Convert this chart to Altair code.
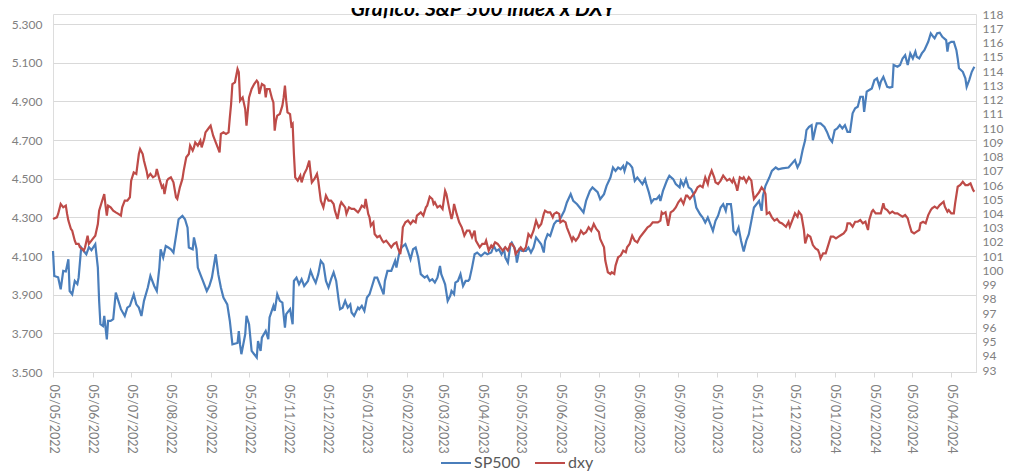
import altair as alt
import pandas as pd

TITLE = "Gráfico: S&P 500 index x DXY"
SERIES = ["SP500", "dxy"]
COLORS = ["#4a7ebb", "#be4b48"]

sp_dates = [
    "2022-05-05", "2022-05-06", "2022-05-09", "2022-05-11", "2022-05-13", "2022-05-15", "2022-05-17", "2022-05-18",
    "2022-05-20", "2022-05-22", "2022-05-24", "2022-05-25", "2022-05-27", "2022-05-29", "2022-05-31", "2022-06-02",
    "2022-06-04", "2022-06-07", "2022-06-09", "2022-06-10", "2022-06-11", "2022-06-13", "2022-06-14", "2022-06-16",
    "2022-06-17", "2022-06-19", "2022-06-21", "2022-06-23", "2022-06-25", "2022-06-27", "2022-06-30", "2022-07-02",
    "2022-07-04", "2022-07-07", "2022-07-09", "2022-07-11", "2022-07-13", "2022-07-15", "2022-07-18", "2022-07-20",
    "2022-07-23", "2022-07-25", "2022-07-27", "2022-07-28", "2022-07-30", "2022-08-01", "2022-08-03", "2022-08-05",
    "2022-08-07", "2022-08-09", "2022-08-11", "2022-08-14", "2022-08-16", "2022-08-18", "2022-08-19", "2022-08-22",
    "2022-08-23", "2022-08-25", "2022-08-26", "2022-08-28", "2022-08-30", "2022-09-02", "2022-09-04", "2022-09-06",
    "2022-09-09", "2022-09-11", "2022-09-13", "2022-09-15", "2022-09-18", "2022-09-20", "2022-09-22", "2022-09-26",
    "2022-09-27", "2022-09-28", "2022-09-29", "2022-10-02", "2022-10-03", "2022-10-05", "2022-10-07", "2022-10-09",
    "2022-10-11", "2022-10-12", "2022-10-14", "2022-10-15", "2022-10-18", "2022-10-20", "2022-10-21", "2022-10-24",
    "2022-10-25", "2022-10-27", "2022-10-29", "2022-10-31", "2022-11-02", "2022-11-03", "2022-11-06", "2022-11-08",
    "2022-11-09", "2022-11-11", "2022-11-13", "2022-11-15", "2022-11-17", "2022-11-20", "2022-11-22", "2022-11-24",
    "2022-11-26", "2022-11-28", "2022-11-30", "2022-12-02", "2022-12-04", "2022-12-06", "2022-12-08", "2022-12-10",
    "2022-12-12", "2022-12-14", "2022-12-15", "2022-12-17", "2022-12-19", "2022-12-21", "2022-12-23", "2022-12-24",
    "2022-12-26", "2022-12-29", "2022-12-30", "2023-01-01", "2023-01-03", "2023-01-05", "2023-01-07", "2023-01-09",
    "2023-01-11", "2023-01-13", "2023-01-15", "2023-01-18", "2023-01-19", "2023-01-21", "2023-01-24", "2023-01-27",
    "2023-01-28", "2023-01-30", "2023-02-01", "2023-02-04", "2023-02-06", "2023-02-08", "2023-02-10", "2023-02-12",
    "2023-02-14", "2023-02-16", "2023-02-19", "2023-02-21", "2023-02-23", "2023-02-25", "2023-02-27", "2023-03-01",
    "2023-03-03", "2023-03-04", "2023-03-06", "2023-03-07", "2023-03-09", "2023-03-11", "2023-03-12", "2023-03-14",
    "2023-03-15", "2023-03-17", "2023-03-19", "2023-03-21", "2023-03-23", "2023-03-25", "2023-03-26", "2023-03-28",
    "2023-03-30", "2023-04-01", "2023-04-04", "2023-04-07", "2023-04-09", "2023-04-12", "2023-04-14", "2023-04-16",
    "2023-04-18", "2023-04-20", "2023-04-22", "2023-04-23", "2023-04-25", "2023-04-27", "2023-04-28", "2023-04-30",
    "2023-05-01", "2023-05-02", "2023-05-04", "2023-05-06", "2023-05-09", "2023-05-11", "2023-05-13", "2023-05-15",
    "2023-05-17", "2023-05-19", "2023-05-21", "2023-05-23", "2023-05-24", "2023-05-26", "2023-05-28", "2023-05-31",
    "2023-06-02", "2023-06-04", "2023-06-06", "2023-06-08", "2023-06-10", "2023-06-13", "2023-06-15", "2023-06-18",
    "2023-06-20", "2023-06-23", "2023-06-25", "2023-06-28", "2023-06-30", "2023-07-04", "2023-07-06", "2023-07-09",
    "2023-07-11", "2023-07-14", "2023-07-16", "2023-07-18", "2023-07-20", "2023-07-22", "2023-07-24", "2023-07-25",
    "2023-07-27", "2023-07-29", "2023-07-31", "2023-08-02", "2023-08-04", "2023-08-06", "2023-08-08", "2023-08-10",
    "2023-08-11", "2023-08-13", "2023-08-15", "2023-08-17", "2023-08-19", "2023-08-21", "2023-08-22", "2023-08-24",
    "2023-08-27", "2023-08-29", "2023-09-01", "2023-09-03", "2023-09-06", "2023-09-07", "2023-09-09", "2023-09-11",
    "2023-09-13", "2023-09-15", "2023-09-17", "2023-09-19", "2023-09-22", "2023-09-24", "2023-09-26", "2023-09-28",
    "2023-09-30", "2023-10-02", "2023-10-04", "2023-10-06", "2023-10-08", "2023-10-10", "2023-10-12", "2023-10-13",
    "2023-10-16", "2023-10-17", "2023-10-18", "2023-10-20", "2023-10-22", "2023-10-24", "2023-10-26", "2023-10-28",
    "2023-10-30", "2023-11-01", "2023-11-03", "2023-11-05", "2023-11-07", "2023-11-09", "2023-11-10", "2023-11-12",
    "2023-11-15", "2023-11-17", "2023-11-20", "2023-11-22", "2023-11-25", "2023-11-30", "2023-12-05", "2023-12-07",
    "2023-12-09", "2023-12-11", "2023-12-13", "2023-12-14", "2023-12-16", "2023-12-18", "2023-12-19", "2023-12-21",
    "2023-12-22", "2023-12-25", "2023-12-28", "2023-12-30", "2024-01-01", "2024-01-03", "2024-01-05", "2024-01-07",
    "2024-01-09", "2024-01-11", "2024-01-13", "2024-01-15", "2024-01-17", "2024-01-19", "2024-01-21", "2024-01-23",
    "2024-01-25", "2024-01-27", "2024-01-28", "2024-01-30", "2024-02-01", "2024-02-03", "2024-02-05", "2024-02-07",
    "2024-02-09", "2024-02-10", "2024-02-12", "2024-02-15", "2024-02-17", "2024-02-19", "2024-02-20", "2024-02-23",
    "2024-02-25", "2024-02-27", "2024-02-29", "2024-03-02", "2024-03-04", "2024-03-06", "2024-03-08", "2024-03-09",
    "2024-03-11", "2024-03-13", "2024-03-15", "2024-03-18", "2024-03-20", "2024-03-22", "2024-03-23", "2024-03-25",
    "2024-03-27", "2024-03-29", "2024-04-01", "2024-04-02", "2024-04-03", "2024-04-05", "2024-04-07", "2024-04-09",
    "2024-04-10", "2024-04-11", "2024-04-14", "2024-04-16", "2024-04-17", "2024-04-19", "2024-04-21", "2024-04-23",
]
sp_values = [
    4126, 3997, 3990, 3928, 4023, 4020, 4083, 3919, 3902, 3971, 3955, 3988, 4144, 4126, 4109, 4146,
    4130, 4161, 4040, 3867, 3747, 3738, 3790, 3669, 3764, 3764, 3773, 3911, 3868, 3825, 3790, 3833,
    3842, 3902, 3850, 3833, 3790, 3868, 3937, 3997, 3945, 3919, 4040, 4135, 4092, 4152, 4144, 4135,
    4118, 4204, 4290, 4308, 4290, 4247, 4144, 4135, 4196, 4135, 4040, 4005, 3971, 3919, 3945, 3988,
    4109, 4005, 3937, 3885, 3850, 3764, 3643, 3650, 3712, 3640, 3592, 3695, 3790, 3747, 3609, 3592,
    3575, 3660, 3609, 3678, 3712, 3670, 3782, 3842, 3816, 3902, 3868, 3859, 3730, 3799, 3825, 3747,
    3971, 3988, 3954, 3980, 3945, 3971, 4023, 3988, 3962, 4006, 4075, 4058, 3971, 3937, 3980, 4015,
    3971, 3868, 3825, 3833, 3868, 3833, 3850, 3808, 3790, 3833, 3825, 3842, 3816, 3885, 3902, 3945,
    3988, 3988, 3954, 3902, 3971, 4023, 4023, 4075, 4040, 4109, 4144, 4161, 4126, 4083, 4135, 4144,
    4092, 4006, 3988, 3997, 3971, 3980, 3963, 3988, 4049, 4006, 3971, 3954, 3868, 3894, 3919, 3902,
    3962, 3971, 4006, 3945, 3971, 3971, 3980, 4040, 4109, 4118, 4100, 4118, 4109, 4118, 4152, 4126,
    4135, 4109, 4135, 4092, 4066, 4161, 4170, 4144, 4126, 4066, 4135, 4126, 4126, 4144, 4118, 4144,
    4196, 4178, 4161, 4118, 4178, 4213, 4204, 4265, 4282, 4282, 4308, 4334, 4377, 4420, 4385, 4368,
    4351, 4325, 4385, 4437, 4455, 4430, 4394, 4420, 4463, 4506, 4558, 4540, 4558, 4549, 4566, 4540,
    4584, 4575, 4558, 4489, 4506, 4489, 4472, 4498, 4472, 4429, 4377, 4394, 4394, 4411, 4385, 4437,
    4489, 4515, 4498, 4472, 4455, 4489, 4463, 4498, 4455, 4446, 4420, 4351, 4316, 4299, 4273, 4299,
    4265, 4230, 4282, 4308, 4351, 4368, 4334, 4368, 4368, 4316, 4230, 4213, 4247, 4178, 4123, 4178,
    4213, 4282, 4351, 4368, 4385, 4334, 4411, 4463, 4506, 4540, 4558, 4549, 4553, 4558, 4596, 4558,
    4584, 4648, 4700, 4751, 4768, 4777, 4699, 4760, 4786, 4786, 4768, 4742, 4708, 4690, 4751, 4760,
    4777, 4760, 4777, 4742, 4742, 4838, 4864, 4872, 4924, 4924, 4846, 4950, 4959, 4967, 5010, 5019,
    4976, 5002, 5027, 4975, 4971, 4975, 5088, 5079, 5088, 5122, 5139, 5088, 5148, 5122, 5157, 5131,
    5122, 5148, 5165, 5208, 5252, 5234, 5226, 5252, 5255, 5234, 5217, 5157, 5200, 5208, 5208, 5165,
    5122, 5071, 5053, 5019, 4975, 5010, 5053, 5079,
]

dxy_dates = [
    "2022-05-05", "2022-05-08", "2022-05-09", "2022-05-11", "2022-05-13", "2022-05-15", "2022-05-16", "2022-05-17",
    "2022-05-19", "2022-05-20", "2022-05-22", "2022-05-23", "2022-05-25", "2022-05-26", "2022-05-28", "2022-05-29",
    "2022-05-30", "2022-06-01", "2022-06-02", "2022-06-04", "2022-06-05", "2022-06-07", "2022-06-09", "2022-06-10",
    "2022-06-12", "2022-06-14", "2022-06-15", "2022-06-16", "2022-06-17", "2022-06-19", "2022-06-21", "2022-06-23",
    "2022-06-25", "2022-06-27", "2022-06-28", "2022-06-30", "2022-07-02", "2022-07-04", "2022-07-05", "2022-07-07",
    "2022-07-09", "2022-07-11", "2022-07-12", "2022-07-14", "2022-07-15", "2022-07-17", "2022-07-18", "2022-07-20",
    "2022-07-22", "2022-07-24", "2022-07-25", "2022-07-27", "2022-07-29", "2022-07-30", "2022-07-31", "2022-08-02",
    "2022-08-03", "2022-08-05", "2022-08-07", "2022-08-09", "2022-08-10", "2022-08-12", "2022-08-14", "2022-08-15",
    "2022-08-17", "2022-08-19", "2022-08-20", "2022-08-22", "2022-08-23", "2022-08-24", "2022-08-26", "2022-08-28",
    "2022-08-29", "2022-08-31", "2022-09-01", "2022-09-03", "2022-09-04", "2022-09-05", "2022-09-07", "2022-09-09",
    "2022-09-10", "2022-09-12", "2022-09-13", "2022-09-15", "2022-09-17", "2022-09-19", "2022-09-20", "2022-09-21",
    "2022-09-22", "2022-09-24", "2022-09-26", "2022-09-27", "2022-09-28", "2022-09-29", "2022-09-30", "2022-10-02",
    "2022-10-03", "2022-10-05", "2022-10-07", "2022-10-09", "2022-10-11", "2022-10-12", "2022-10-13", "2022-10-15",
    "2022-10-17", "2022-10-18", "2022-10-19", "2022-10-21", "2022-10-23", "2022-10-24", "2022-10-25", "2022-10-26",
    "2022-10-27", "2022-10-29", "2022-10-31", "2022-11-01", "2022-11-02", "2022-11-03", "2022-11-04", "2022-11-06",
    "2022-11-07", "2022-11-08", "2022-11-09", "2022-11-10", "2022-11-12", "2022-11-14", "2022-11-15", "2022-11-17",
    "2022-11-19", "2022-11-21", "2022-11-22", "2022-11-23", "2022-11-25", "2022-11-27", "2022-11-28", "2022-11-30",
    "2022-12-02", "2022-12-04", "2022-12-06", "2022-12-08", "2022-12-10", "2022-12-11", "2022-12-13", "2022-12-15",
    "2022-12-16", "2022-12-19", "2022-12-20", "2022-12-22", "2022-12-24", "2022-12-26", "2022-12-29", "2022-12-30",
    "2023-01-01", "2023-01-03", "2023-01-04", "2023-01-06", "2023-01-07", "2023-01-08", "2023-01-10", "2023-01-11",
    "2023-01-13", "2023-01-15", "2023-01-17", "2023-01-18", "2023-01-20", "2023-01-22", "2023-01-24", "2023-01-26",
    "2023-01-28", "2023-01-29", "2023-01-31", "2023-02-01", "2023-02-02", "2023-02-04", "2023-02-06", "2023-02-08",
    "2023-02-10", "2023-02-12", "2023-02-13", "2023-02-16", "2023-02-18", "2023-02-20", "2023-02-21", "2023-02-23",
    "2023-02-25", "2023-02-26", "2023-02-27", "2023-03-01", "2023-03-03", "2023-03-05", "2023-03-07", "2023-03-08",
    "2023-03-10", "2023-03-12", "2023-03-13", "2023-03-14", "2023-03-16", "2023-03-18", "2023-03-20", "2023-03-22",
    "2023-03-24", "2023-03-26", "2023-03-28", "2023-03-30", "2023-03-31", "2023-04-03", "2023-04-05", "2023-04-07",
    "2023-04-08", "2023-04-10", "2023-04-12", "2023-04-13", "2023-04-15", "2023-04-17", "2023-04-19", "2023-04-21",
    "2023-04-23", "2023-04-25", "2023-04-27", "2023-04-28", "2023-04-30", "2023-05-01", "2023-05-03", "2023-05-05",
    "2023-05-07", "2023-05-09", "2023-05-11", "2023-05-13", "2023-05-15", "2023-05-17", "2023-05-19", "2023-05-21",
    "2023-05-23", "2023-05-24", "2023-05-26", "2023-05-28", "2023-05-30", "2023-05-31", "2023-06-02", "2023-06-04",
    "2023-06-05", "2023-06-07", "2023-06-09", "2023-06-10", "2023-06-12", "2023-06-14", "2023-06-15", "2023-06-17",
    "2023-06-19", "2023-06-21", "2023-06-23", "2023-06-25", "2023-06-27", "2023-06-29", "2023-07-01", "2023-07-03",
    "2023-07-05", "2023-07-06", "2023-07-09", "2023-07-10", "2023-07-12", "2023-07-14", "2023-07-15", "2023-07-17",
    "2023-07-18", "2023-07-20", "2023-07-22", "2023-07-24", "2023-07-26", "2023-07-27", "2023-07-29", "2023-07-31",
    "2023-08-02", "2023-08-04", "2023-08-06", "2023-08-08", "2023-08-10", "2023-08-12", "2023-08-14", "2023-08-16",
    "2023-08-18", "2023-08-20", "2023-08-22", "2023-08-23", "2023-08-24", "2023-08-26", "2023-08-28", "2023-08-30",
    "2023-09-01", "2023-09-03", "2023-09-05", "2023-09-07", "2023-09-09", "2023-09-11", "2023-09-12", "2023-09-14",
    "2023-09-16", "2023-09-18", "2023-09-20", "2023-09-22", "2023-09-24", "2023-09-26", "2023-09-28", "2023-09-29",
    "2023-10-01", "2023-10-03", "2023-10-04", "2023-10-06", "2023-10-08", "2023-10-10", "2023-10-12", "2023-10-13",
    "2023-10-15", "2023-10-17", "2023-10-18", "2023-10-20", "2023-10-21", "2023-10-23", "2023-10-25", "2023-10-26",
    "2023-10-28", "2023-10-30", "2023-11-01", "2023-11-02", "2023-11-03", "2023-11-05", "2023-11-07", "2023-11-09",
    "2023-11-11", "2023-11-12", "2023-11-13", "2023-11-15", "2023-11-17", "2023-11-19", "2023-11-21", "2023-11-23",
    "2023-11-25", "2023-11-28", "2023-11-30", "2023-12-01", "2023-12-03", "2023-12-05", "2023-12-07", "2023-12-08",
    "2023-12-10", "2023-12-12", "2023-12-13", "2023-12-15", "2023-12-17", "2023-12-19", "2023-12-21", "2023-12-23",
    "2023-12-24", "2023-12-25", "2023-12-27", "2023-12-29", "2023-12-31", "2024-01-02", "2024-01-04", "2024-01-06",
    "2024-01-08", "2024-01-10", "2024-01-12", "2024-01-14", "2024-01-15", "2024-01-17", "2024-01-19", "2024-01-21",
    "2024-01-23", "2024-01-25", "2024-01-27", "2024-01-29", "2024-01-31", "2024-02-01", "2024-02-03", "2024-02-04",
    "2024-02-06", "2024-02-08", "2024-02-10", "2024-02-12", "2024-02-13", "2024-02-15", "2024-02-17", "2024-02-19",
    "2024-02-21", "2024-02-23", "2024-02-25", "2024-02-27", "2024-02-29", "2024-03-02", "2024-03-03", "2024-03-05",
    "2024-03-07", "2024-03-09", "2024-03-11", "2024-03-12", "2024-03-14", "2024-03-16", "2024-03-18", "2024-03-20",
    "2024-03-21", "2024-03-23", "2024-03-25", "2024-03-27", "2024-03-30", "2024-03-31", "2024-04-02", "2024-04-03",
    "2024-04-05", "2024-04-07", "2024-04-08", "2024-04-10", "2024-04-12", "2024-04-14", "2024-04-16", "2024-04-18",
    "2024-04-20", "2024-04-22", "2024-04-23",
]
dxy_values = [
    103.61, 103.73, 103.97, 104.67, 104.43, 104.55, 103.97, 103.50, 102.91, 102.79, 102.09, 101.86, 101.86, 101.62, 101.50, 101.39,
    101.62, 102.44, 101.86, 102.09, 102.21, 102.44, 103.26, 104.20, 104.79, 105.37, 104.55, 103.85, 104.55, 104.43, 104.20, 104.08,
    103.97, 103.85, 104.43, 104.90, 104.90, 105.14, 106.31, 106.89, 106.78, 108.18, 108.53, 108.18, 107.71, 107.01, 106.54, 106.78,
    106.54, 106.66, 107.13, 106.43, 105.84, 105.96, 105.37, 106.31, 106.43, 106.54, 106.19, 105.14, 105.02, 105.84, 106.43, 107.01,
    107.95, 108.18, 108.77, 108.42, 108.65, 109.00, 108.77, 109.12, 108.65, 109.24, 109.70, 109.94, 110.06, 110.17, 109.47, 109.00,
    108.77, 108.30, 109.59, 109.70, 109.59, 109.70, 110.76, 111.70, 113.10, 113.22, 114.16, 113.92, 111.93, 112.05, 112.16, 111.34,
    110.17, 112.16, 112.75, 113.10, 113.34, 113.22, 112.40, 113.10, 112.98, 112.16, 112.75, 112.75, 112.05, 111.81, 109.82, 110.52,
    110.88, 110.99, 111.58, 112.16, 112.98, 111.93, 111.11, 110.99, 110.17, 110.29, 108.18, 106.54, 106.31, 106.66, 106.19, 106.78,
    107.13, 107.71, 106.89, 106.19, 106.43, 106.78, 106.31, 104.90, 104.43, 105.26, 104.90, 104.90, 104.67, 104.20, 103.61, 104.55,
    104.79, 104.43, 103.97, 104.43, 104.32, 104.32, 104.08, 104.20, 104.55, 104.43, 105.02, 103.97, 103.73, 103.14, 103.38, 102.56,
    102.33, 102.44, 102.09, 101.97, 102.09, 101.86, 101.62, 101.86, 101.97, 101.62, 101.15, 101.86, 103.03, 103.38, 103.50, 103.26,
    103.50, 103.38, 103.85, 104.08, 103.85, 104.43, 104.55, 105.18, 105.02, 104.67, 104.79, 104.43, 104.55, 104.32, 105.60, 105.37,
    104.43, 103.61, 103.97, 104.67, 103.97, 103.38, 103.03, 102.44, 102.79, 102.79, 102.33, 102.79, 102.09, 101.62, 101.86, 101.86,
    102.09, 101.39, 101.74, 101.62, 101.97, 101.86, 101.62, 101.39, 101.62, 101.39, 101.86, 101.86, 101.62, 101.15, 101.39, 101.62,
    101.39, 101.62, 102.56, 102.33, 102.79, 103.50, 103.03, 103.26, 103.97, 104.20, 104.08, 104.08, 103.73, 103.97, 104.08, 103.97,
    103.38, 103.50, 103.38, 103.03, 102.56, 102.09, 102.33, 102.09, 102.33, 102.79, 102.56, 102.68, 103.03, 102.79, 103.26, 102.91,
    102.70, 102.21, 101.62, 100.69, 99.87, 99.75, 99.87, 99.75, 100.34, 100.92, 101.04, 101.39, 101.27, 101.62, 101.86, 102.44,
    102.09, 101.97, 102.33, 102.56, 102.79, 103.03, 103.14, 103.38, 103.38, 103.38, 103.50, 104.08, 103.97, 104.08, 103.14, 104.08,
    104.20, 104.43, 104.79, 105.02, 104.67, 105.26, 105.26, 105.02, 105.26, 105.49, 105.84, 105.96, 105.84, 106.54, 106.07, 106.54,
    107.01, 106.54, 106.19, 106.07, 106.31, 106.66, 106.43, 106.31, 106.43, 106.19, 106.43, 105.96, 105.60, 106.54, 106.43, 106.54,
    106.19, 106.54, 106.31, 105.60, 105.02, 105.26, 105.49, 105.84, 105.60, 105.37, 103.97, 104.08, 103.73, 103.50, 103.61, 103.38,
    103.30, 103.07, 103.42, 103.07, 103.54, 104.01, 103.77, 104.13, 103.89, 102.84, 101.90, 102.49, 102.37, 101.78, 101.55, 101.43,
    101.20, 100.85, 101.20, 101.20, 101.78, 102.37, 102.37, 102.25, 102.37, 102.49, 102.60, 102.84, 103.31, 103.31, 103.07, 103.42,
    103.42, 103.54, 103.31, 103.42, 102.84, 103.54, 104.13, 104.24, 104.01, 104.01, 104.01, 104.71, 104.36, 104.24, 104.01, 104.13,
    104.01, 104.01, 103.89, 103.77, 103.89, 103.66, 103.31, 102.72, 102.60, 102.72, 102.84, 103.31, 103.42, 103.31, 103.89, 104.24,
    104.36, 104.48, 104.36, 104.59, 104.83, 104.48, 104.13, 104.24, 104.01, 104.01, 104.71, 105.88, 106.00, 106.23, 106.00, 106.00,
    106.12, 105.65, 105.53,
]

left_ticks = [3500, 3700, 3900, 4100, 4300, 4500, 4700, 4900, 5100, 5300]
right_ticks = list(range(93, 119))
tick_months = [(2022, m) for m in range(5, 13)] + [(2023, m) for m in range(1, 13)] + [(2024, m) for m in range(1, 5)]

sp_df = pd.DataFrame({"date": sp_dates, "value": sp_values, "series": SERIES[0]})
dxy_df = pd.DataFrame({"date": dxy_dates, "value": dxy_values, "series": SERIES[1]})

FONT = "Lato"
GRAY = "#808080"
LINE = "#d9d9d9"

x_scale = alt.Scale(
    type="utc",
    domain=[alt.DateTime(year=2022, month=5, date=5, utc=True),
            alt.DateTime(year=2024, month=4, date=24, hours=7, utc=True)],
)
x_axis = alt.Axis(
    values=[alt.DateTime(year=y, month=m, date=5, utc=True) for y, m in tick_months],
    format="%d/%m/%Y", formatType="time", labelAngle=90, labelAlign="left", labelBaseline="middle",
    labelColor=GRAY, labelFont=FONT, labelFontSize=12.5,
    domainColor=LINE, tickColor=LINE, tickSize=5, labelPadding=7, grid=False,
    labelOverlap=False, labelBound=False, labelFlush=False, title=None,
)

color = alt.Color(
    "series:N",
    scale=alt.Scale(domain=SERIES, range=COLORS),
    legend=alt.Legend(
        orient="none", legendX=387, legendY=433, direction="horizontal", title=None,
        symbolType="stroke", symbolSize=900, symbolStrokeWidth=2,
        labelFont=FONT, labelFontSize=16, labelColor="#595959",
        columnPadding=10, labelOffset=2, padding=0,
    ),
)

sp_line = alt.Chart(sp_df).mark_line(strokeWidth=2.2).encode(
    x=alt.X("date:T", scale=x_scale, axis=x_axis),
    y=alt.Y("value:Q", scale=alt.Scale(domain=[3500, 5352], nice=False, zero=False),
            axis=alt.Axis(values=left_ticks, orient="left",
                          labelExpr="replace(format(datum.value, ',.0f'), ',', '.')",
                          grid=True, gridColor=LINE, gridWidth=1, domain=False, ticks=False,
                          labelColor=GRAY, labelFont=FONT, labelFontSize=12, labelPadding=11,
                          title=None)),
    color=color,
)

dxy_line = alt.Chart(dxy_df).mark_line(strokeWidth=2.2).encode(
    x=alt.X("date:T", scale=x_scale, axis=x_axis),
    y=alt.Y("value:Q", scale=alt.Scale(domain=[92.86, 118.02], nice=False, zero=False),
            axis=alt.Axis(values=right_ticks, orient="right", grid=False, domain=False, ticks=False,
                          labelColor=GRAY, labelFont=FONT, labelFontSize=12, labelPadding=6,
                          labelOverlap=False, labelBound=False, title=None)),
    color=color,
)

title_mark = alt.Chart(pd.DataFrame({"t": [TITLE]})).mark_text(
    font=FONT, fontSize=21, fontWeight="bold", fontStyle="italic", color="#000000",
    align="center", baseline="alphabetic",
).encode(text="t:N", x=alt.value(430), y=alt.value(2))

chart = alt.layer(sp_line, dxy_line, title_mark).resolve_scale(y="independent").properties(
    width=923, height=358,
    autosize=alt.AutoSizeParams(type="none"),
    padding={"left": 45, "top": 6, "right": 28, "bottom": 101},
).configure_view(stroke=None).configure(background="white")

chart.save("out.html", embed_options={"renderer": "svg", "actions": False})
